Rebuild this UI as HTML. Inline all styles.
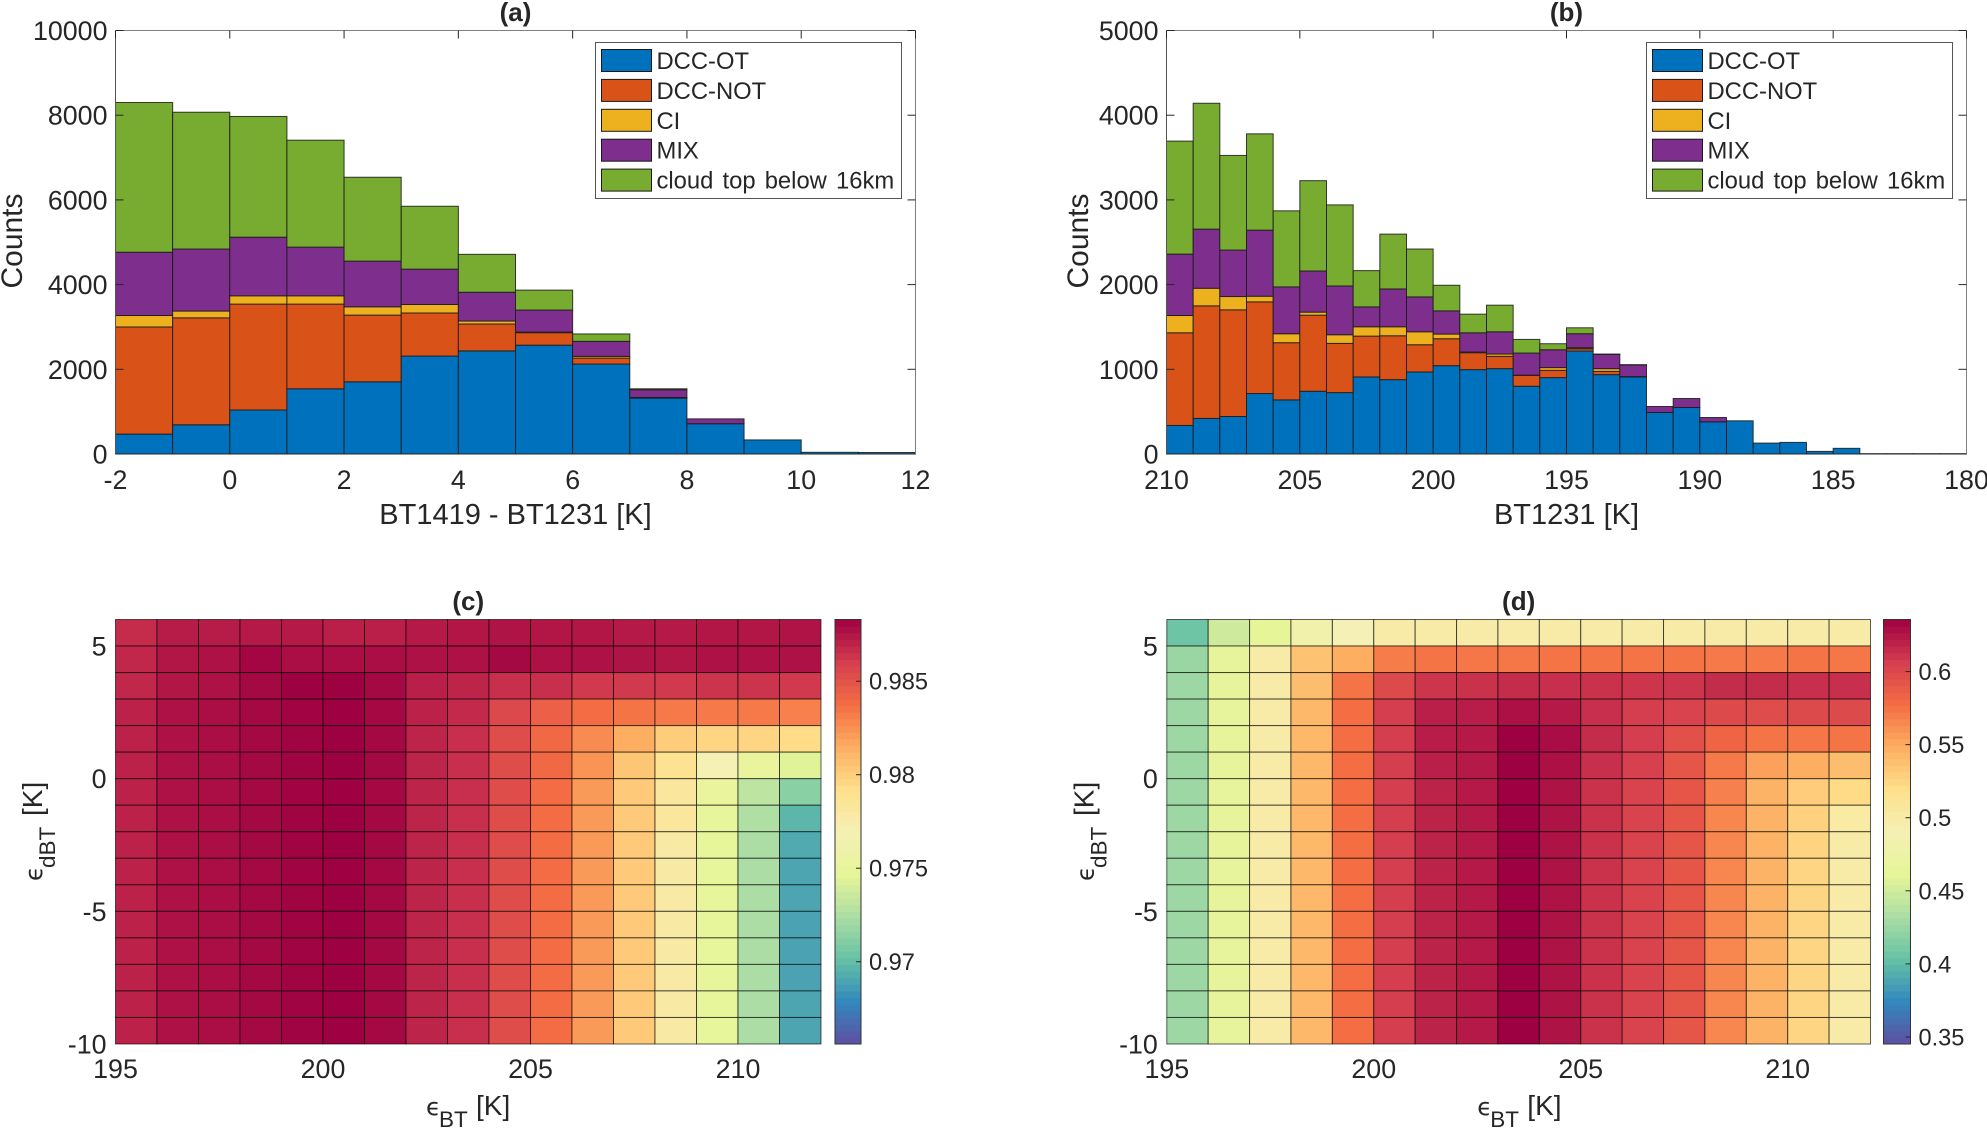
<!DOCTYPE html>
<html lang="en">
<head>
<meta charset="utf-8">
<title>DCC-OT histograms and heatmaps</title>
<style>
  html, body { margin: 0; padding: 0; background: #fff; }
  svg { display: block; }
  text { font-family: "Liberation Sans", "DejaVu Sans", sans-serif; fill: #262626; }
</style>
</head>
<body>
<svg id="figure" xmlns="http://www.w3.org/2000/svg" width="1987" height="1128" viewBox="0 0 1987 1128"></svg>
<script>
// ---------- Panel (a) data ----------
const binStartA = -2;
const xTicksA = [-2, 0, 2, 4, 6, 8, 10, 12];
const yTicksA = [0, 2000, 4000, 6000, 8000, 10000];
const dccOtA   = [470, 690, 1040, 1540, 1705, 2313, 2435, 2570, 2125, 1320, 715, 333, 40, 35];
const dccNotA  = [2530, 2525, 2500, 2000, 1575, 1017, 635, 295, 140, 15, 0, 0, 0, 0];
const ciA      = [270, 160, 195, 195, 195, 200, 70, 15, 40, 0, 0, 0, 0, 0];
const mixA     = [1495, 1465, 1385, 1150, 1080, 835, 680, 520, 355, 183, 115, 0, 0, 0];
const belowA   = [3535, 3230, 2850, 2525, 1980, 1485, 895, 470, 175, 22, 0, 0, 0, 0];

// ---------- Panel (b) data ----------
const binStartB = 210;
const xTicksB = [210, 205, 200, 195, 190, 185, 180];
const yTicksB = [0, 1000, 2000, 3000, 4000, 5000];
const dccOtB  = [337, 420, 443, 714, 639, 741, 725, 910, 878, 969, 1043, 996, 1008, 800, 902, 1216, 937, 910, 490, 549, 380, 392, 129, 137, 31, 67, 4, 4, 4, 4];
const dccNotB = [1094, 1329, 1259, 1082, 675, 898, 581, 482, 518, 321, 318, 200, 145, 129, 86, 27, 39, 4, 0, 0, 0, 0, 0, 0, 0, 0, 0, 0, 0, 0];
const ciB     = [204, 208, 157, 67, 106, 36, 102, 110, 106, 153, 55, 8, 27, 2, 32, 12, 32, 0, 0, 0, 0, 0, 0, 0, 0, 0, 0, 0, 0, 0];
const mixB    = [725, 698, 549, 780, 553, 486, 576, 235, 447, 412, 274, 227, 263, 261, 211, 165, 168, 137, 71, 106, 51, 0, 0, 0, 0, 0, 0, 0, 0, 0];
const belowB  = [1334, 1486, 1117, 1137, 898, 1066, 957, 428, 647, 565, 302, 220, 314, 161, 71, 70, 4, 4, 0, 0, 0, 0, 0, 0, 0, 0, 0, 0, 0, 0];

// ---------- Legend ----------
const seriesNames = ["DCC-OT", "DCC-NOT", "CI", "MIX", "cloud top below 16km"];
const seriesColors = ["#0072bd", "#d95319", "#edb120", "#7e2f8e", "#77ac30"];

// ---------- Heatmap axes ----------
const heatXTicks = [195, 200, 205, 210];
const heatYTicks = [5, 0, -5, -10];
const heatXStart = 195;
const heatYTop = 6;
const cbarTicksC = [0.97, 0.975, 0.98, 0.985];
const cbarLabelsC = ["0.97", "0.975", "0.98", "0.985"];
const climC = [0.9656, 0.9883];
const cbarTicksD = [0.35, 0.4, 0.45, 0.5, 0.55, 0.6];
const cbarLabelsD = ["0.35", "0.4", "0.45", "0.5", "0.55", "0.6"];
const climD = [0.3452, 0.6356];

// ---------- Panel (c) values, top row first ----------
const heatC = [
 [.9867,.9873,.9873,.9874,.9874,.9872,.9872,.9874,.9875,.9876,.9875,.9875,.9874,.9874,.9875,.9875,.9876],
 [.9869,.9875,.9877,.9881,.9878,.9878,.9878,.9877,.9877,.9880,.9877,.9877,.9876,.9875,.9877,.9877,.9877],
 [.9869,.9875,.9877,.9880,.9883,.9883,.9880,.9872,.9870,.9866,.9866,.9862,.9862,.9862,.9864,.9864,.9862],
 [.9871,.9877,.9878,.9880,.9882,.9883,.9880,.9871,.9868,.9855,.9844,.9838,.9835,.9833,.9833,.9833,.9831],
 [.9871,.9877,.9878,.9880,.9882,.9883,.9880,.9870,.9866,.9853,.9840,.9827,.9815,.9801,.9797,.9797,.9794],
 [.9871,.9877,.9878,.9880,.9882,.9883,.9880,.9870,.9866,.9853,.9840,.9824,.9804,.9789,.9770,.9751,.9745],
 [.9871,.9877,.9878,.9880,.9882,.9883,.9880,.9870,.9866,.9853,.9838,.9822,.9802,.9783,.9751,.9731,.9713],
 [.9871,.9877,.9878,.9880,.9882,.9883,.9880,.9870,.9866,.9853,.9838,.9822,.9802,.9783,.9749,.9726,.9697],
 [.9871,.9877,.9878,.9880,.9882,.9883,.9880,.9870,.9866,.9853,.9838,.9822,.9802,.9778,.9749,.9724,.9692],
 [.9871,.9877,.9878,.9880,.9882,.9883,.9880,.9870,.9866,.9853,.9838,.9822,.9802,.9778,.9749,.9724,.9690],
 [.9871,.9877,.9878,.9880,.9882,.9883,.9880,.9870,.9866,.9853,.9838,.9822,.9802,.9778,.9749,.9724,.9690],
 [.9871,.9877,.9878,.9880,.9882,.9883,.9880,.9870,.9866,.9853,.9838,.9822,.9802,.9778,.9749,.9724,.9689],
 [.9871,.9877,.9878,.9880,.9882,.9883,.9880,.9870,.9866,.9853,.9838,.9822,.9802,.9778,.9749,.9724,.9689],
 [.9871,.9877,.9878,.9880,.9882,.9883,.9880,.9870,.9866,.9853,.9838,.9822,.9802,.9778,.9749,.9724,.9689],
 [.9871,.9877,.9878,.9880,.9882,.9883,.9880,.9870,.9866,.9853,.9838,.9822,.9802,.9778,.9749,.9724,.9690],
 [.9871,.9877,.9878,.9880,.9882,.9883,.9880,.9870,.9866,.9853,.9838,.9822,.9802,.9778,.9749,.9724,.9690]
];

// ---------- Panel (d) values, top row first ----------
const heatD = [
 [.4062,.4497,.4614,.4817,.4905,.4991,.4991,.4991,.4991,.4991,.4991,.4991,.4991,.4991,.4991,.4991,.4991],
 [.4251,.4643,.4991,.5369,.5485,.5703,.5746,.5732,.5732,.5746,.5746,.5746,.5746,.5717,.5717,.5746,.5732],
 [.4265,.4643,.4991,.5398,.5746,.5993,.6109,.6124,.6153,.6138,.6124,.6109,.6109,.6153,.6153,.6138,.6138],
 [.4265,.4643,.4991,.5427,.5775,.6066,.6211,.6225,.6283,.6240,.6138,.6066,.6036,.5993,.5978,.5993,.5993],
 [.4265,.4643,.4991,.5427,.5775,.6066,.6225,.6240,.6356,.6298,.6153,.6066,.5949,.5833,.5746,.5732,.5746],
 [.4265,.4643,.4991,.5427,.5775,.6066,.6211,.6240,.6356,.6283,.6138,.6051,.5920,.5717,.5543,.5485,.5398],
 [.4265,.4643,.4991,.5427,.5775,.6066,.6196,.6240,.6356,.6269,.6124,.6036,.5920,.5688,.5456,.5311,.5223],
 [.4265,.4643,.4991,.5427,.5775,.6066,.6196,.6240,.6356,.6269,.6124,.6036,.5920,.5659,.5456,.5281,.5020],
 [.4265,.4643,.4991,.5427,.5775,.6066,.6196,.6240,.6356,.6269,.6124,.6036,.5920,.5659,.5456,.5267,.5000],
 [.4265,.4643,.4991,.5427,.5775,.6066,.6196,.6240,.6356,.6269,.6124,.6036,.5920,.5659,.5456,.5252,.4991],
 [.4265,.4643,.4991,.5427,.5775,.6066,.6196,.6240,.6356,.6269,.6124,.6036,.5920,.5659,.5456,.5252,.4991],
 [.4265,.4643,.4991,.5427,.5775,.6066,.6196,.6240,.6356,.6269,.6124,.6036,.5920,.5659,.5456,.5252,.4991],
 [.4265,.4643,.4991,.5427,.5775,.6066,.6196,.6240,.6356,.6269,.6124,.6036,.5920,.5659,.5456,.5252,.4991],
 [.4265,.4643,.4991,.5427,.5775,.6066,.6196,.6240,.6356,.6269,.6124,.6036,.5920,.5659,.5456,.5252,.4991],
 [.4265,.4643,.4991,.5427,.5775,.6066,.6196,.6240,.6356,.6269,.6124,.6036,.5920,.5659,.5456,.5252,.4991],
 [.4265,.4643,.4991,.5427,.5775,.6066,.6196,.6240,.6356,.6269,.6124,.6036,.5920,.5659,.5456,.5252,.4991]
];

// ---------- Colormap (reversed Spectral) ----------
const spectralStops = ["#5e4fa2", "#3288bd", "#66c2a5", "#abdda4", "#e6f598", "#f5f0b5", "#fee08b", "#fdae61", "#f46d43", "#d53e4f", "#9e0142"];

function colormap(t) {
  const c = Math.max(0, Math.min(1, t)) * (spectralStops.length - 1);
  const i = Math.min(Math.floor(c), spectralStops.length - 2);
  const f = c - i;
  const a = spectralStops[i], b = spectralStops[i + 1];
  let out = "rgb(";
  for (let k = 0; k < 3; k++) {
    const p = parseInt(a.substr(1 + k * 2, 2), 16);
    const q = parseInt(b.substr(1 + k * 2, 2), 16);
    out += Math.round(p + (q - p) * f) + (k < 2 ? "," : ")");
  }
  return out;
}

const NS = "http://www.w3.org/2000/svg";
const figure = document.getElementById("figure");

function makeEl(tag, parent) {
  const el = document.createElementNS(NS, tag);
  parent.appendChild(el);
  return el;
}
function setLine(el, x1, y1, x2, y2, stroke) {
  el.setAttribute("x1", x1);
  el.setAttribute("y1", y1);
  el.setAttribute("x2", x2);
  el.setAttribute("y2", y2);
  el.setAttribute("stroke", stroke);
  el.setAttribute("stroke-width", "1");
}
function setRect(el, x, y, w, h) {
  el.setAttribute("x", x);
  el.setAttribute("y", y);
  el.setAttribute("width", w);
  el.setAttribute("height", h);
}
function setText(el, x, y, size, anchor, str, weight) {
  el.setAttribute("x", x);
  el.setAttribute("y", y);
  el.setAttribute("font-size", size);
  el.setAttribute("text-anchor", anchor);
  if (weight) el.setAttribute("font-weight", weight);
  el.textContent = str;
}

// ---------- Stacked histogram panels ----------
function drawHistogram(cfg) {
  const g = makeEl("g", figure);
  
  
  const xScale = v => cfg.L + (v - cfg.xMin) / (cfg.xMax - cfg.xMin) * (cfg.R - cfg.L);
  const yScale = v => cfg.B - v / cfg.yMax * (cfg.B - cfg.T);

  const nBins = cfg.series[0].length;
  for (let i = 0; i < nBins; i++) {
    let total = 0;
    const x0 = xScale(cfg.binStart + i * cfg.binDir);
    const x1 = xScale(cfg.binStart + (i + 1) * cfg.binDir);
    for (let s = 0; s < cfg.series.length; s++) {
      const v = cfg.series[s][i];
      if (v <= 0) continue;
      const r = makeEl("rect", g);
      
      
      setRect(r, x0, yScale(total + v), x1 - x0, yScale(total) - yScale(total + v));
      r.setAttribute("fill", seriesColors[s]);
      r.setAttribute("stroke", "#1a1a1a");
      r.setAttribute("stroke-width", "1");
      r.setAttribute("stroke-opacity", "0.85");
      total += v;
    }
  }

  // axes box
  const top = makeEl("line", g);
  
  
  setLine(top, cfg.L, cfg.T, cfg.R, cfg.T, "#808080");
  const right = makeEl("line", g);
  
  
  setLine(right, cfg.R, cfg.T, cfg.R, cfg.B, "#808080");
  const left = makeEl("line", g);
  
  
  setLine(left, cfg.L, cfg.T, cfg.L, cfg.B, "#555555");
  const bottom = makeEl("line", g);
  
  
  setLine(bottom, cfg.L, cfg.B, cfg.R, cfg.B, "#262626");

  // x ticks
  cfg.xTicks.forEach(v => {
    const x = xScale(v);
    const t1 = makeEl("line", g);
    
    
    setLine(t1, x, cfg.T, x, cfg.T + 8, "#262626");
    const lab = makeEl("text", g);
    
    
    setText(lab, x, 489, 26.8, "middle", String(v));
  });
  // y ticks
  cfg.yTicks.forEach(v => {
    const y = yScale(v);
    const t1 = makeEl("line", g);
    
    
    setLine(t1, cfg.R - 8, y, cfg.R, y, "#262626");
    const t2 = makeEl("line", g);
    
    
    setLine(t2, cfg.L, y, cfg.L + 8, y, "#262626");
    const lab = makeEl("text", g);
    
    
    setText(lab, cfg.L - 8, y + 9.5, 26.8, "end", String(v));
  });

  // titles
  const title = makeEl("text", g);
  
  
  setText(title, (cfg.L + cfg.R) / 2, 21, 26, "middle", cfg.title, "bold");
  title.setAttribute("fill", "#000");
  const xLab = makeEl("text", g);
  
  
  setText(xLab, (cfg.L + cfg.R) / 2, 524, 29, "middle", cfg.xLabel);
  const yLab = makeEl("text", g);
  
  
  setText(yLab, cfg.yLabelX, 241, 30, "middle", "Counts");
  yLab.setAttribute("transform", "rotate(-90 " + cfg.yLabelX + " 241)");

  // legend
  const lg = makeEl("g", g);
  
  
  const box = makeEl("rect", lg);
  
  
  setRect(box, cfg.legendX, 42.5, cfg.legendW, 156);
  box.setAttribute("fill", "#fff");
  box.setAttribute("stroke", "#555");
  box.setAttribute("stroke-width", "1");
  seriesNames.forEach((name, i) => {
    const swatch = makeEl("rect", lg);
    
    
    setRect(swatch, cfg.legendX + 6, 49.5 + i * 29.9, 50, 22);
    swatch.setAttribute("fill", seriesColors[i]);
    swatch.setAttribute("stroke", "#1a1a1a");
    swatch.setAttribute("stroke-width", "1");
    const lab = makeEl("text", lg);
    
    
    setText(lab, cfg.legendX + 61, 69 + i * 29.9, 23.8, "start", name);
    lab.setAttribute("word-spacing", "2.5");
  });
}

drawHistogram({
  name: "histogram-a", title: "(a)", xLabel: "BT1419 - BT1231 [K]",
  L: 115.5, R: 915.5, T: 30.5, B: 454,
  xMin: -2, xMax: 12, yMax: 10000,
  binStart: binStartA, binDir: 1,
  xTicks: xTicksA, yTicks: yTicksA,
  series: [dccOtA, dccNotA, ciA, mixA, belowA],
  yLabelX: 22, legendX: 595.5, legendW: 306
});
drawHistogram({
  name: "histogram-b", title: "(b)", xLabel: "BT1231 [K]",
  L: 1166.5, R: 1966.5, T: 30.5, B: 454,
  xMin: 210, xMax: 180, yMax: 5000,
  binStart: binStartB, binDir: -1,
  xTicks: xTicksB, yTicks: yTicksB,
  series: [dccOtB, dccNotB, ciB, mixB, belowB],
  yLabelX: 1088, legendX: 1646.5, legendW: 306
});

// ---------- Heatmap panels ----------
function drawHeatmap(cfg) {
  const g = makeEl("g", figure);
  
  
  const T = 619.5, B = 1044;
  const rows = cfg.values.length, cols = cfg.values[0].length;
  const xScale = v => cfg.L + (v - heatXStart) / cols * (cfg.R - cfg.L);
  const yScale = v => T + (heatYTop - v) / rows * (B - T);
  const tOf = v => (v - cfg.clim[0]) / (cfg.clim[1] - cfg.clim[0]);

  cfg.values.forEach((row, r) => {
    row.forEach((v, c) => {
      const cell = makeEl("rect", g);
      
      
      const x0 = xScale(heatXStart + c), x1 = xScale(heatXStart + c + 1);
      const y0 = yScale(heatYTop - r), y1 = yScale(heatYTop - r - 1);
      setRect(cell, x0, y0, x1 - x0, y1 - y0);
      cell.setAttribute("fill", colormap(tOf(v)));
      cell.setAttribute("stroke", "#000");
      cell.setAttribute("stroke-opacity", "0.62");
      cell.setAttribute("stroke-width", "1");
    });
  });

  heatXTicks.forEach(v => {
    const lab = makeEl("text", g);
    
    
    setText(lab, xScale(v), 1078, 26.8, "middle", String(v));
  });
  heatYTicks.forEach(v => {
    const lab = makeEl("text", g);
    
    
    setText(lab, cfg.L - 9, yScale(v) + 9.5, 26.8, "end", String(v));
  });

  // colorbar
  const cb = makeEl("g", g);
  
  
  const levels = 64;
  for (let i = 0; i < levels; i++) {
    const seg = makeEl("rect", cb);
    
    
    const h = (B - T) / levels;
    setRect(seg, cfg.cbL, B - (i + 1) * h, cfg.cbR - cfg.cbL, h + 0.5);
    seg.setAttribute("fill", colormap((i + 0.5) / levels));
  }
  const frame = makeEl("rect", cb);
  
  
  setRect(frame, cfg.cbL, T, cfg.cbR - cfg.cbL, B - T);
  frame.setAttribute("fill", "none");
  frame.setAttribute("stroke", "#333");
  frame.setAttribute("stroke-width", "1");
  cfg.cbTicks.forEach((v, i) => {
    const y = B - tOf(v) * (B - T);
    const tk = makeEl("line", cb);
    
    
    setLine(tk, cfg.cbR - 5, y, cfg.cbR, y, "#262626");
    const lab = makeEl("text", cb);
    
    
    setText(lab, cfg.cbR + 8, y + 8.5, 23.6, "start", cfg.cbLabels[i]);
  });

  // title
  const title = makeEl("text", g);
  
  
  setText(title, (cfg.L + cfg.R) / 2, 610, 26, "middle", cfg.title, "bold");
  title.setAttribute("fill", "#000");

  // x label: epsilon, subscript, unit
  const dx = cfg.L - 115.5;
  const xe = makeEl("text", g);
  
  
  setText(xe, 426 + dx, 1115, 24, "start", "\u03F5");
  xe.setAttribute("style", 'font-family:"DejaVu Sans",sans-serif');
  const xs = makeEl("text", g);
  
  
  setText(xs, 439 + dx, 1127, 22.5, "start", "BT");
  const xu = makeEl("text", g);
  
  
  setText(xu, 476 + dx, 1115, 28, "start", "[K]");

  // y label: rotated in three parts
  const yg = makeEl("g", g);
  
  
  yg.setAttribute("transform", "translate(" + (42 + dx) + " 881) rotate(-90)");
  const ye = makeEl("text", yg);
  
  
  setText(ye, 0, 0, 24, "start", "\u03F5");
  ye.setAttribute("style", 'font-family:"DejaVu Sans",sans-serif');
  const ys = makeEl("text", yg);
  
  
  setText(ys, 13, 13, 22.5, "start", "dBT");
  const yu = makeEl("text", yg);
  
  
  setText(yu, 65, 0, 28, "start", "[K]");
}

drawHeatmap({
  name: "heatmap-c", title: "(c)", values: heatC, clim: climC,
  L: 115.5, R: 821, cbL: 835, cbR: 861,
  cbTicks: cbarTicksC, cbLabels: cbarLabelsC
});
drawHeatmap({
  name: "heatmap-d", title: "(d)", values: heatD, clim: climD,
  L: 1166.8, R: 1870.5, cbL: 1883.5, cbR: 1910.5,
  cbTicks: cbarTicksD, cbLabels: cbarLabelsD
});
</script>
</body>
</html>
